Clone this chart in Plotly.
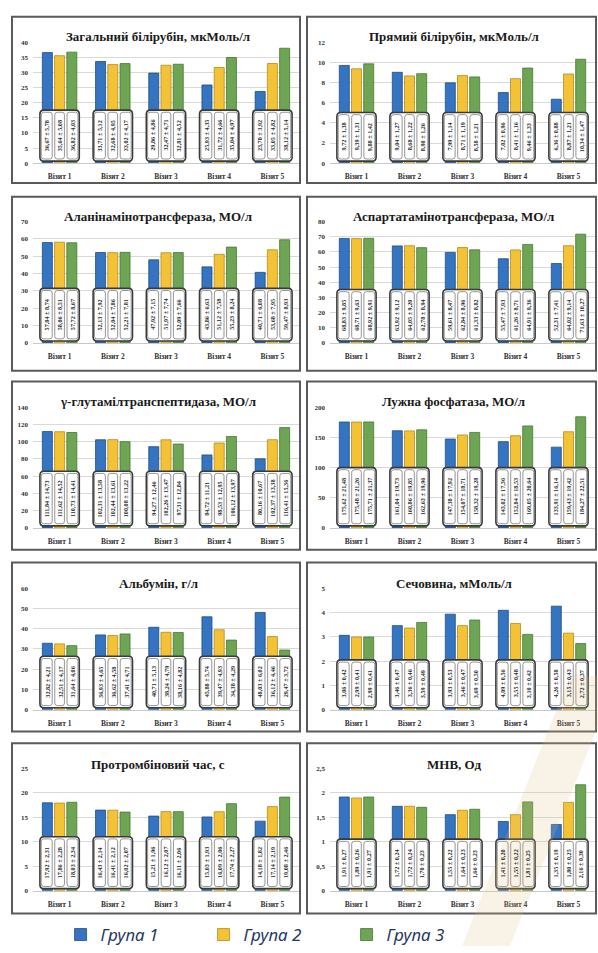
import plotly.graph_objects as go

visits = ["Візит 1", "Візит 2", "Візит 3", "Візит 4", "Візит 5"]
groups = ["Група 1", "Група 2", "Група 3"]

titles = [
    "Загальний білірубін, мкМоль/л",
    "Прямий білірубін, мкМоль/л",
    "Аланінамінотрансфераза, МО/л",
    "Аспартатамінотрансфераза, МО/л",
    "γ-глутамілтранспептидаза, МО/л",
    "Лужна фосфатаза, МО/л",
    "Альбумін, г/л",
    "Сечовина, мМоль/л",
    "Протромбіновий час, с",
    "МНВ, Од",
]

# --- means ---
tbil_g1 = [36.67, 33.71, 29.86, 25.93, 23.78]
tbil_g2 = [35.64, 32.68, 32.47, 31.72, 33.05]
tbil_g3 = [36.82, 33.02, 32.81, 35.04, 38.12]

dbil_g1 = [9.72, 9.04, 7.99, 7.02, 6.36]
dbil_g2 = [9.39, 8.68, 8.71, 8.41, 8.87]
dbil_g3 = [9.88, 8.90, 8.58, 9.46, 10.34]

alt_g1 = [57.84, 52.13, 47.92, 43.86, 40.71]
alt_g2 = [58.06, 52.04, 51.97, 51.12, 53.68]
alt_g3 = [57.72, 52.21, 52.09, 55.23, 59.47]

ast_g1 = [68.83, 63.92, 59.61, 55.47, 52.31]
ast_g2 = [68.71, 64.05, 62.84, 61.26, 64.02]
ast_g3 = [68.92, 62.78, 61.33, 64.91, 71.63]

ggt_g1 = [111.84, 102.31, 94.27, 84.72, 80.16]
ggt_g2 = [111.62, 102.44, 102.26, 98.53, 102.37]
ggt_g3 = [110.73, 100.08, 97.31, 106.12, 116.41]

alp_g1 = [175.62, 161.04, 147.38, 143.02, 133.91]
alp_g2 = [175.48, 160.86, 154.07, 152.84, 159.43]
alp_g3 = [175.71, 162.63, 158.32, 169.05, 184.27]

alb_g1 = [32.82, 36.93, 40.71, 45.88, 48.03]
alb_g2 = [32.51, 36.62, 38.24, 39.47, 36.12]
alb_g3 = [31.64, 37.41, 38.16, 34.38, 29.47]

urea_g1 = [3.06, 3.46, 3.93, 4.09, 4.26]
urea_g2 = [2.99, 3.36, 3.46, 3.55, 3.15]
urea_g3 = [2.99, 3.59, 3.69, 3.10, 2.72]

pt_g1 = [17.92, 16.43, 15.21, 15.03, 14.18]
pt_g2 = [17.86, 16.41, 16.12, 16.09, 17.14]
pt_g3 = [18.03, 16.02, 16.11, 17.74, 19.08]

inr_g1 = [1.91, 1.72, 1.55, 1.41, 1.35]
inr_g2 = [1.89, 1.72, 1.64, 1.55, 1.80]
inr_g3 = [1.91, 1.70, 1.66, 1.81, 2.16]

# --- standard deviations shown in the embedded data table ---
tbil_sd1 = [5.78, 5.12, 4.86, 4.35, 3.92]
tbil_sd2 = [5.08, 4.95, 4.71, 4.66, 4.82]
tbil_sd3 = [4.03, 4.17, 4.52, 4.97, 5.14]
dbil_sd1 = [1.38, 1.27, 1.14, 0.96, 0.88]
dbil_sd2 = [1.31, 1.22, 1.19, 1.16, 1.21]
dbil_sd3 = [1.42, 1.26, 1.21, 1.33, 1.47]
alt_sd1 = [8.74, 7.92, 7.15, 6.63, 6.08]
alt_sd2 = [8.51, 7.86, 7.74, 7.58, 7.95]
alt_sd3 = [8.67, 7.81, 7.66, 8.24, 8.93]
ast_sd1 = [9.85, 9.12, 8.47, 7.93, 7.41]
ast_sd2 = [9.63, 9.20, 8.96, 8.71, 9.14]
ast_sd3 = [9.91, 8.94, 8.82, 9.36, 10.27]
ggt_sd1 = [14.73, 13.58, 12.46, 11.21, 10.67]
ggt_sd2 = [14.52, 13.61, 13.47, 12.95, 13.38]
ggt_sd3 = [14.41, 13.22, 12.84, 13.97, 15.36]
alp_sd1 = [21.48, 19.73, 17.92, 17.36, 16.14]
alp_sd2 = [21.26, 19.85, 18.71, 18.53, 19.42]
alp_sd3 = [21.37, 19.96, 19.28, 20.64, 22.51]
alb_sd1 = [4.21, 4.65, 5.13, 5.74, 6.02]
alb_sd2 = [4.17, 4.58, 4.79, 4.93, 4.46]
alb_sd3 = [4.06, 4.71, 4.82, 4.29, 3.72]
urea_sd1 = [0.42, 0.47, 0.53, 0.56, 0.58]
urea_sd2 = [0.41, 0.46, 0.47, 0.48, 0.43]
urea_sd3 = [0.41, 0.49, 0.50, 0.42, 0.37]
pt_sd1 = [2.31, 2.14, 1.96, 1.93, 1.82]
pt_sd2 = [2.28, 2.12, 2.07, 2.06, 2.19]
pt_sd3 = [2.34, 2.07, 2.06, 2.27, 2.46]
inr_sd1 = [0.27, 0.24, 0.22, 0.20, 0.19]
inr_sd2 = [0.26, 0.24, 0.23, 0.22, 0.25]
inr_sd3 = [0.27, 0.23, 0.23, 0.25, 0.30]

# axis maxima / steps
y_max = [40, 12, 70, 80, 140, 200, 60, 5, 25, 2.5]
y_step = [5, 2, 10, 10, 20, 50, 10, 1, 5, 0.5]
box_frac = [0.44, 0.42, 0.45, 0.44, 0.47, 0.50, 0.44, 0.41, 0.44, 0.42]

means = [
    (tbil_g1, tbil_g2, tbil_g3), (dbil_g1, dbil_g2, dbil_g3),
    (alt_g1, alt_g2, alt_g3), (ast_g1, ast_g2, ast_g3),
    (ggt_g1, ggt_g2, ggt_g3), (alp_g1, alp_g2, alp_g3),
    (alb_g1, alb_g2, alb_g3), (urea_g1, urea_g2, urea_g3),
    (pt_g1, pt_g2, pt_g3), (inr_g1, inr_g2, inr_g3),
]
sds = [
    (tbil_sd1, tbil_sd2, tbil_sd3), (dbil_sd1, dbil_sd2, dbil_sd3),
    (alt_sd1, alt_sd2, alt_sd3), (ast_sd1, ast_sd2, ast_sd3),
    (ggt_sd1, ggt_sd2, ggt_sd3), (alp_sd1, alp_sd2, alp_sd3),
    (alb_sd1, alb_sd2, alb_sd3), (urea_sd1, urea_sd2, urea_sd3),
    (pt_sd1, pt_sd2, pt_sd3), (inr_sd1, inr_sd2, inr_sd3),
]

bar_colors = ["#3574C0", "#F4C236", "#6EA555"]
bar_edges = ["#1E4B85", "#B38C1C", "#46772F"]

W, H = 598, 953
def py(p):
    return 1 - p / H
def pxx(p):
    return p / W

col_x = [(33, 299), (330, 595)]
row_y = [(39, 161), (220, 343), (408, 530), (591, 714), (773, 897)]
frame_x = [(12, 300), (307, 596)]
frame_y = [(13, 181), (195, 371), (382, 552), (565, 736), (748, 920)]
title_y = [33, 215, 402, 586, 769]

BARGAP = 0.31
SLOT = (1 - BARGAP) / 3
HALF = 0.37

serif = "Liberation Serif"
fig = go.Figure()
layout = dict(
    width=W, height=H, margin=dict(l=0, r=0, t=0, b=0),
    paper_bgcolor="white", plot_bgcolor="white",
    barmode="group", bargap=BARGAP, bargroupgap=0.18,
    separators=", ",
    showlegend=True,
)
shapes = []
annotations = []


def rounded(x0, y0, x1, y1, rx, ry):
    return (f"M {x0+rx},{y0} L {x1-rx},{y0} Q {x1},{y0} {x1},{y0+ry} "
            f"L {x1},{y1-ry} Q {x1},{y1} {x1-rx},{y1} L {x0+rx},{y1} "
            f"Q {x0},{y1} {x0},{y1-ry} L {x0},{y0+ry} Q {x0},{y0} {x0+rx},{y0} Z")


def fmt(v):
    return f"{v:.2f}".replace(".", ",")


for k in range(10):
    r, c = divmod(k, 2)
    n = k + 1
    xs = "x" if n == 1 else f"x{n}"
    ys = "y" if n == 1 else f"y{n}"
    xa = "xaxis" if n == 1 else f"xaxis{n}"
    ya = "yaxis" if n == 1 else f"yaxis{n}"
    for g in range(3):
        fig.add_trace(go.Bar(
            x=visits, y=means[k][g], name=groups[g], legendgroup=groups[g],
            showlegend=(k == 0), xaxis=xs, yaxis=ys,
            marker=dict(color=bar_colors[g], line=dict(color=bar_edges[g], width=0.8)),
        ))
    x0p, x1p = col_x[c]
    ytop, ybot = row_y[r]
    plot_h = ybot - ytop
    cat_w = (x1p - x0p) / 5
    layout[xa] = dict(
        domain=[pxx(x0p), pxx(x1p)], anchor=ys, type="category",
        showgrid=False, showline=True, linecolor="#C8C8C8", linewidth=1,
        ticks="", ticklabelstandoff=6,
        tickfont=dict(family=serif, size=7.5, color="#333333", weight="bold"),
    )
    layout[ya] = dict(
        domain=[py(ybot), py(ytop)], anchor=xs, range=[0, y_max[k]],
        dtick=y_step[k], tick0=0, showgrid=True, gridcolor="#D9D9D9", gridwidth=1,
        zeroline=False, showline=False, ticks="", ticklabelstandoff=4,
        tickfont=dict(family=serif, size=7, color="#333333", weight="bold"),
    )
    # panel frame
    fx0, fx1 = frame_x[c]
    fy0, fy1 = frame_y[r]
    shapes.append(dict(type="rect", xref="paper", yref="paper",
                       x0=pxx(fx0), x1=pxx(fx1), y0=py(fy1), y1=py(fy0),
                       line=dict(color="#5A5A5A", width=2), layer="below"))
    # title
    annotations.append(dict(xref="paper", yref="paper", x=pxx((fx0 + fx1) / 2 + 2),
                            y=py(title_y[r]), text=titles[k], showarrow=False,
                            xanchor="center", yanchor="middle",
                            font=dict(family=serif, size=13, color="#1A1A1A", weight="bold")))
    # embedded data table boxes
    yu = y_max[k] / plot_h          # data units per pixel
    rx = 4 / cat_w
    ry = 4 * yu
    b0 = 2 * yu
    b1 = box_frac[k] * y_max[k]
    for i in range(5):
        shapes.append(dict(type="path", xref=xs, yref=ys, layer="above",
                           path=rounded(i - HALF, b0, i + HALF, b1, rx, ry),
                           fillcolor="white", line=dict(color="#3A3A3A", width=1.6)))
        edges = [i - HALF, i - SLOT / 2, i + SLOT / 2, i + HALF]
        ix = 1.3 / cat_w
        iy = 2.2 * yu
        for g in range(3):
            cx0, cx1 = edges[g] + ix, edges[g + 1] - ix
            shapes.append(dict(type="path", xref=xs, yref=ys, layer="above",
                               path=rounded(cx0, b0 + iy, cx1, b1 - iy, 2.5 / cat_w, 2.5 * yu),
                               fillcolor="white", line=dict(color="#7A7A7A", width=0.8)))
            annotations.append(dict(
                xref=xs, yref=ys, x=(cx0 + cx1) / 2, y=(b0 + b1) / 2,
                text=f"{fmt(means[k][g][i])} ± {fmt(sds[k][g][i])}",
                textangle=-90, showarrow=False, xanchor="center", yanchor="middle",
                font=dict(family=serif, size=6.2, color="#2A2A2A", weight="bold")))

# faint diagonal watermark band in the lower right corner
shapes.append(dict(type="path", xref="paper", yref="paper", layer="above",
                   path=(f"M {pxx(570)},{py(680)} L {pxx(618)},{py(680)} "
                         f"L {pxx(510)},{py(953)} L {pxx(462)},{py(953)} Z"),
                   fillcolor="rgba(226,190,130,0.2)", line=dict(width=0)))

layout["legend"] = dict(
    orientation="h", x=0.46, xanchor="center", y=py(942), yanchor="middle",
    font=dict(family="Noto Sans", size=17, style="italic", color="#1F3864"),
    entrywidth=98, itemwidth=30, bgcolor="rgba(0,0,0,0)",
)
layout["shapes"] = shapes
layout["annotations"] = annotations
fig.update_layout(**layout)
fig.write_html(
    "out.html",
    config={"displayModeBar": False},
    post_script="document.body.style.margin='0';document.body.style.overflow='hidden';",
)
